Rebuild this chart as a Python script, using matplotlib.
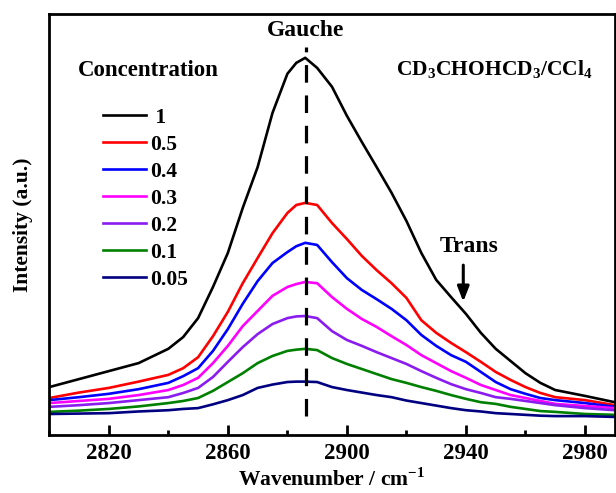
import matplotlib
matplotlib.use("Agg")
import matplotlib.pyplot as plt
from matplotlib.ticker import MultipleLocator

plt.rcParams["font.family"] = ["Liberation Serif", "DejaVu Serif"]
plt.rcParams["font.weight"] = "bold"
plt.rcParams["mathtext.fontset"] = "custom"
plt.rcParams["mathtext.rm"] = "Liberation Serif:bold"
plt.rcParams["mathtext.bf"] = "Liberation Serif:bold"

# wavenumber grid (cm-1) and intensities (a.u.)
wavenumber = [2800, 2810, 2820, 2830, 2840, 2845, 2850, 2855, 2860, 2865, 2870, 2875,
              2880, 2883, 2886, 2890, 2895, 2900, 2905, 2910, 2915, 2920, 2925, 2930,
              2935, 2940, 2945, 2950, 2955, 2960, 2965, 2970, 2980, 2990]

conc_1 = [0.114, 0.133, 0.152, 0.171, 0.205, 0.233, 0.278, 0.352, 0.433, 0.540, 0.637, 0.766,
          0.859, 0.885, 0.897, 0.873, 0.828, 0.759, 0.697, 0.637, 0.576, 0.509, 0.433, 0.369,
          0.328, 0.288, 0.243, 0.205, 0.176, 0.147, 0.124, 0.107, 0.093, 0.078]
conc_05 = [0.088, 0.101, 0.112, 0.127, 0.143, 0.159, 0.185, 0.235, 0.293, 0.361, 0.421, 0.480,
           0.528, 0.547, 0.552, 0.547, 0.504, 0.466, 0.426, 0.392, 0.361, 0.326, 0.273, 0.243,
           0.219, 0.197, 0.174, 0.150, 0.131, 0.114, 0.100, 0.090, 0.083, 0.071]
conc_04 = [0.083, 0.090, 0.098, 0.109, 0.124, 0.140, 0.159, 0.200, 0.252, 0.312, 0.366, 0.409,
           0.435, 0.449, 0.457, 0.452, 0.411, 0.373, 0.345, 0.323, 0.300, 0.273, 0.238, 0.212,
           0.190, 0.174, 0.150, 0.126, 0.109, 0.098, 0.088, 0.083, 0.076, 0.067]
conc_03 = [0.076, 0.081, 0.086, 0.095, 0.107, 0.119, 0.136, 0.171, 0.212, 0.259, 0.295, 0.331,
           0.352, 0.359, 0.364, 0.361, 0.328, 0.300, 0.276, 0.257, 0.235, 0.214, 0.190, 0.171,
           0.152, 0.136, 0.119, 0.107, 0.095, 0.088, 0.081, 0.074, 0.069, 0.064]
conc_02 = [0.067, 0.071, 0.076, 0.083, 0.090, 0.100, 0.112, 0.138, 0.174, 0.209, 0.240, 0.264,
           0.278, 0.282, 0.283, 0.278, 0.247, 0.226, 0.212, 0.197, 0.183, 0.169, 0.152, 0.136,
           0.121, 0.109, 0.100, 0.090, 0.086, 0.081, 0.076, 0.071, 0.064, 0.059]
conc_01 = [0.055, 0.058, 0.062, 0.068, 0.076, 0.081, 0.088, 0.105, 0.126, 0.147, 0.171, 0.188,
           0.200, 0.203, 0.205, 0.202, 0.183, 0.169, 0.157, 0.145, 0.133, 0.124, 0.114, 0.105,
           0.095, 0.086, 0.078, 0.074, 0.067, 0.062, 0.057, 0.055, 0.050, 0.048]
conc_005 = [0.050, 0.051, 0.052, 0.056, 0.059, 0.062, 0.064, 0.073, 0.083, 0.095, 0.112, 0.120,
            0.126, 0.127, 0.127, 0.126, 0.114, 0.107, 0.101, 0.095, 0.090, 0.082, 0.076, 0.070,
            0.064, 0.059, 0.056, 0.052, 0.050, 0.048, 0.046, 0.045, 0.045, 0.043]

labels = [" 1", "0.5", "0.4", "0.3", "0.2", "0.1", "0.05"]
colors = ["#000000", "#ff0000", "#0000ff", "#ff00ff", "#8a1cf0", "#008000", "#000080"]
series = [conc_1, conc_05, conc_04, conc_03, conc_02, conc_01, conc_005]

gauche_pos = 2886.2
trans_pos = 2939.1

fig = plt.figure(figsize=(6.16, 4.93), dpi=100)
ax = fig.add_axes([0.080, 0.1176, 0.918, 0.853])

for values, color, label in zip(series, colors, labels):
    ax.plot(wavenumber, values, color=color, lw=1.9, label=label)

ax.plot([gauche_pos, gauche_pos], [0.045, 0.923], color="black", lw=2.3,
        linestyle=(0, (5.5, 4.0)))

ax.set_xlim(2800, 2990)
ax.set_ylim(0, 1)
ax.xaxis.set_minor_locator(MultipleLocator(20))
ax.set_xticks([2820, 2860, 2900, 2940, 2980])
ax.set_yticks([])
ax.tick_params(axis="x", which="major", direction="in", length=7, width=2,
               labelsize=16.5, pad=6)
ax.tick_params(axis="x", which="minor", direction="in", length=3.5, width=2)
for spine in ax.spines.values():
    spine.set_linewidth(2)

ax.set_xlabel("Wavenumber / cm$^{-1}$", fontsize=15.5, fontweight="bold", labelpad=3)
ax.set_ylabel("Intensity (a.u.)", fontsize=15.5, fontweight="bold", labelpad=12)

ax.text(gauche_pos, 0.962, "Gauche", ha="center", va="center", fontsize=17)
ax.text(0.0507, 0.854, "Concentration", transform=ax.transAxes, ha="left",
        va="baseline", fontsize=16.5)
ax.text(0.613, 0.854, r"CD$_3$CHOHCD$_3$/CCl$_4$", transform=ax.transAxes,
        ha="left", va="baseline", fontsize=15.5)
ax.text(2941.2, 0.449, "Trans", ha="center", va="center", fontsize=17)
ax.annotate("", xy=(trans_pos, 0.317), xytext=(trans_pos, 0.404),
            arrowprops=dict(arrowstyle="-|>,head_length=0.9,head_width=0.35",
                            color="black", lw=2.2, shrinkA=0, shrinkB=0))

leg = ax.legend(loc="upper left", bbox_to_anchor=(0.0944, 0.778), frameon=False,
                fontsize=15.5, handlelength=2.0, handletextpad=0.2,
                labelspacing=0.32, borderpad=0, borderaxespad=0)

fig.savefig("out.png", dpi=100)
